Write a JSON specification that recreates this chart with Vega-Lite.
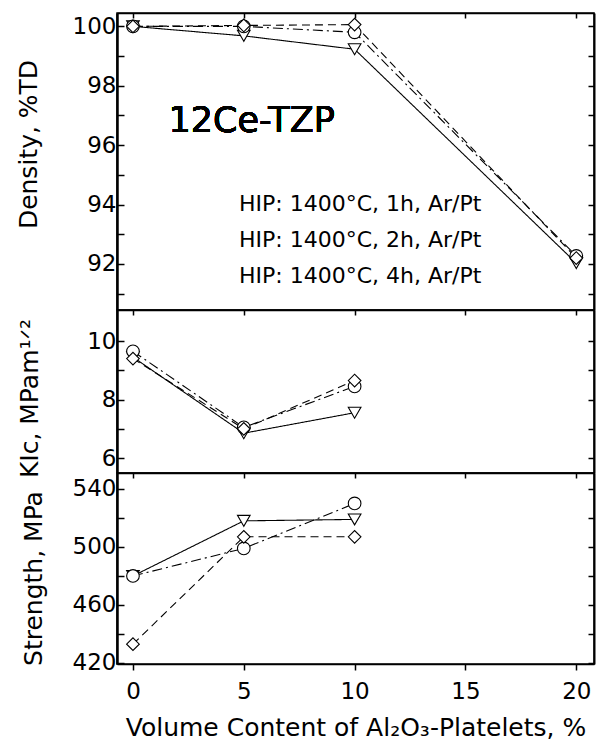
{
  "$schema": "https://vega.github.io/schema/vega-lite/v6.json",
  "padding": {"left": 15, "top": 11, "right": 1, "bottom": 5},
  "spacing": 0,
  "bounds": "flush",
  "config": {
    "view": {"stroke": "black", "strokeWidth": 1.5},
    "axis": {"domainColor": "black", "tickColor": "black", "labelColor": "black", "titleColor": "black", "labelFont": "DejaVu Sans", "titleFont": "DejaVu Sans", "labelFontSize": 23, "titleFontSize": 25, "titleFontWeight": "normal", "grid": false, "tickWidth": 1.5, "domainWidth": 2, "labelOverlap": false, "labelFlush": false, "labelBound": false}
  },
  "datasets": {
    "d": [
      {"prop": "Density", "vol": 0, "hip": "HIP: 1400°C, 1h, Ar/Pt", "val": 100.0},
      {"prop": "Density", "vol": 5, "hip": "HIP: 1400°C, 1h, Ar/Pt", "val": 99.68},
      {"prop": "Density", "vol": 10, "hip": "HIP: 1400°C, 1h, Ar/Pt", "val": 99.23},
      {"prop": "Density", "vol": 20, "hip": "HIP: 1400°C, 1h, Ar/Pt", "val": 92.03},
      {"prop": "Density", "vol": 0, "hip": "HIP: 1400°C, 2h, Ar/Pt", "val": 100.0},
      {"prop": "Density", "vol": 5, "hip": "HIP: 1400°C, 2h, Ar/Pt", "val": 100.0},
      {"prop": "Density", "vol": 10, "hip": "HIP: 1400°C, 2h, Ar/Pt", "val": 99.8},
      {"prop": "Density", "vol": 20, "hip": "HIP: 1400°C, 2h, Ar/Pt", "val": 92.27},
      {"prop": "Density", "vol": 0, "hip": "HIP: 1400°C, 4h, Ar/Pt", "val": 100.0},
      {"prop": "Density", "vol": 5, "hip": "HIP: 1400°C, 4h, Ar/Pt", "val": 100.03},
      {"prop": "Density", "vol": 10, "hip": "HIP: 1400°C, 4h, Ar/Pt", "val": 100.06},
      {"prop": "Density", "vol": 20, "hip": "HIP: 1400°C, 4h, Ar/Pt", "val": 92.2},
      {"prop": "KIc", "vol": 0, "hip": "HIP: 1400°C, 1h, Ar/Pt", "val": 9.45},
      {"prop": "KIc", "vol": 5, "hip": "HIP: 1400°C, 1h, Ar/Pt", "val": 6.85},
      {"prop": "KIc", "vol": 10, "hip": "HIP: 1400°C, 1h, Ar/Pt", "val": 7.55},
      {"prop": "KIc", "vol": 0, "hip": "HIP: 1400°C, 2h, Ar/Pt", "val": 9.65},
      {"prop": "KIc", "vol": 5, "hip": "HIP: 1400°C, 2h, Ar/Pt", "val": 7.05},
      {"prop": "KIc", "vol": 10, "hip": "HIP: 1400°C, 2h, Ar/Pt", "val": 8.45},
      {"prop": "KIc", "vol": 0, "hip": "HIP: 1400°C, 4h, Ar/Pt", "val": 9.4},
      {"prop": "KIc", "vol": 5, "hip": "HIP: 1400°C, 4h, Ar/Pt", "val": 7.0},
      {"prop": "KIc", "vol": 10, "hip": "HIP: 1400°C, 4h, Ar/Pt", "val": 8.65},
      {"prop": "Strength", "vol": 0, "hip": "HIP: 1400°C, 1h, Ar/Pt", "val": 480},
      {"prop": "Strength", "vol": 5, "hip": "HIP: 1400°C, 1h, Ar/Pt", "val": 518},
      {"prop": "Strength", "vol": 10, "hip": "HIP: 1400°C, 1h, Ar/Pt", "val": 519},
      {"prop": "Strength", "vol": 0, "hip": "HIP: 1400°C, 2h, Ar/Pt", "val": 480},
      {"prop": "Strength", "vol": 5, "hip": "HIP: 1400°C, 2h, Ar/Pt", "val": 499},
      {"prop": "Strength", "vol": 10, "hip": "HIP: 1400°C, 2h, Ar/Pt", "val": 530},
      {"prop": "Strength", "vol": 0, "hip": "HIP: 1400°C, 4h, Ar/Pt", "val": 433},
      {"prop": "Strength", "vol": 5, "hip": "HIP: 1400°C, 4h, Ar/Pt", "val": 507},
      {"prop": "Strength", "vol": 10, "hip": "HIP: 1400°C, 4h, Ar/Pt", "val": 507}
    ]
  },
  "resolve": {"scale": {"shape": "independent", "strokeDash": "independent"}},
  "vconcat": [
    {
      "width": 477, "height": 297,
      "data": {"name": "d"},
      "transform": [{"filter": "datum.prop == 'Density'"}],
      "layer": [
        {
          "mark": {"type": "line", "color": "black", "strokeWidth": 1.1},
          "encoding": {
            "x": {"field": "vol", "type": "quantitative", "scale": {"domain": [-0.72, 20.8], "nice": false, "zero": false},
                  "axis": {"orient": "top", "values": [0, 5, 10, 15, 20], "labels": false, "title": null, "tickSize": -5, "domainWidth": 1.5}},
            "y": {"field": "val", "type": "quantitative", "scale": {"domain": [90.45, 100.45], "nice": false, "zero": false},
                  "axis": {"orient": "left", "values": [91, 92, 93, 94, 95, 96, 97, 98, 99, 100], "labelExpr": "datum.value % 2 == 0 ? datum.label : ''", "tickSize": -7, "labelPadding": 8, "title": "Density, %TD", "titleX": -81, "titleY": 131, "titleBaseline": "alphabetic", "domainWidth": 2.5}},
            "strokeDash": {"field": "hip", "type": "nominal", "legend": null,
                  "scale": {"domain": ["HIP: 1400°C, 2h, Ar/Pt", "HIP: 1400°C, 1h, Ar/Pt", "HIP: 1400°C, 4h, Ar/Pt"], "range": [[10, 4, 2, 4], [1, 0], [8, 5]]}}
          }
        },
        {
          "mark": {"type": "point", "filled": true, "fill": "white", "stroke": "black", "strokeWidth": 1.1, "size": 160, "opacity": 1},
          "encoding": {
            "x": {"field": "vol", "type": "quantitative", "axis": null},
            "y": {"field": "val", "type": "quantitative", "axis": {"orient": "right", "values": [91, 92, 93, 94, 95, 96, 97, 98, 99, 100], "labels": false, "title": null, "tickSize": -6, "domainWidth": 2}},
            "shape": {"field": "hip", "type": "nominal",
                  "scale": {"domain": ["HIP: 1400°C, 1h, Ar/Pt", "HIP: 1400°C, 2h, Ar/Pt", "HIP: 1400°C, 4h, Ar/Pt"], "range": ["triangle-down", "circle", "diamond"]},
                  "legend": {"orient": "none", "legendX": 92, "legendY": 180, "title": null, "symbolSize": 150, "labelFont": "DejaVu Sans", "labelFontSize": 22, "labelColor": "black", "labelOffset": 8, "rowPadding": 14, "padding": 0, "labelLimit": 400, "symbolStrokeWidth": 1.1, "symbolStrokeColor": "black", "symbolFillColor": "white",
                    "encode": {"symbols": {
                      "fill": {"value": "white"}, "stroke": {"value": "black"}, "strokeWidth": {"value": 1.1}, "opacity": {"value": 1}}}}}
          }
        },
        {
          "mark": {"type": "text", "text": "12Ce-TZP", "font": "DejaVu Sans", "fontSize": 35, "align": "left", "baseline": "alphabetic", "color": "black"},
          "encoding": {
            "x": {"datum": 1.6, "type": "quantitative", "axis": null},
            "y": {"datum": 96.45, "type": "quantitative", "axis": null}
          }
        }
      ],
      "resolve": {"axis": {"x": "independent", "y": "independent"}}
    },
    {
      "width": 477, "height": 163,
      "data": {"name": "d"},
      "transform": [{"filter": "datum.prop == 'KIc'"}],
      "layer": [
        {
          "mark": {"type": "line", "color": "black", "strokeWidth": 1.1},
          "encoding": {
            "x": {"field": "vol", "type": "quantitative", "scale": {"domain": [-0.72, 20.8], "nice": false, "zero": false},
                  "axis": {"orient": "top", "values": [0, 5, 10, 15, 20], "labels": false, "title": null, "tickSize": -5, "domainWidth": 1.5}},
            "y": {"field": "val", "type": "quantitative", "scale": {"domain": [5.49, 11.06], "nice": false, "zero": false},
                  "axis": {"orient": "left", "values": [6, 7, 8, 9, 10], "labelExpr": "datum.value % 2 == 0 ? datum.label : ''", "tickSize": -7, "labelPadding": 8, "title": "KIc, MPam¹ᐟ²", "titleX": -80, "titleY": 88, "titleBaseline": "alphabetic", "domainWidth": 2.5}},
            "strokeDash": {"field": "hip", "type": "nominal", "legend": null,
                  "scale": {"domain": ["HIP: 1400°C, 1h, Ar/Pt", "HIP: 1400°C, 2h, Ar/Pt", "HIP: 1400°C, 4h, Ar/Pt"], "range": [[1, 0], [10, 4, 2, 4], [8, 5]]}}
          }
        },
        {
          "mark": {"type": "point", "filled": true, "fill": "white", "stroke": "black", "strokeWidth": 1.1, "size": 160, "opacity": 1},
          "encoding": {
            "x": {"field": "vol", "type": "quantitative", "axis": null},
            "y": {"field": "val", "type": "quantitative", "axis": {"orient": "right", "values": [6, 7, 8, 9, 10], "labels": false, "title": null, "tickSize": -6, "domainWidth": 2}},
            "shape": {"field": "hip", "type": "nominal", "legend": null,
                  "scale": {"domain": ["HIP: 1400°C, 1h, Ar/Pt", "HIP: 1400°C, 2h, Ar/Pt", "HIP: 1400°C, 4h, Ar/Pt"], "range": ["triangle-down", "circle", "diamond"]}}
          }
        }
      ],
      "resolve": {"axis": {"x": "independent", "y": "independent"}}
    },
    {
      "width": 477, "height": 191,
      "data": {"name": "d"},
      "transform": [{"filter": "datum.prop == 'Strength'"}],
      "layer": [
        {
          "mark": {"type": "line", "color": "black", "strokeWidth": 1.1},
          "encoding": {
            "x": {"field": "vol", "type": "quantitative", "scale": {"domain": [-0.72, 20.8], "nice": false, "zero": false},
                  "axis": {"orient": "top", "values": [0, 5, 10, 15, 20], "labels": false, "title": null, "tickSize": -5, "domainWidth": 1.5}},
            "y": {"field": "val", "type": "quantitative", "scale": {"domain": [419.3, 551], "nice": false, "zero": false},
                  "axis": {"orient": "left", "values": [420, 440, 460, 480, 500, 520, 540], "labelExpr": "datum.value % 40 == 20 ? datum.label : ''", "tickSize": -7, "labelPadding": 8, "title": "Strength, MPa", "titleX": -76, "titleY": 105, "titleBaseline": "alphabetic", "domainWidth": 2.5}},
            "strokeDash": {"field": "hip", "type": "nominal", "legend": null,
                  "scale": {"domain": ["HIP: 1400°C, 1h, Ar/Pt", "HIP: 1400°C, 2h, Ar/Pt", "HIP: 1400°C, 4h, Ar/Pt"], "range": [[1, 0], [10, 4, 2, 4], [8, 5]]}}
          }
        },
        {
          "mark": {"type": "point", "filled": true, "fill": "white", "stroke": "black", "strokeWidth": 1.1, "size": 160, "opacity": 1},
          "encoding": {
            "x": {"field": "vol", "type": "quantitative",
                  "axis": {"orient": "bottom", "values": [0, 5, 10, 15, 20], "tickSize": 6, "labelPadding": 10, "title": "Volume Content of Al₂O₃-Platelets, %", "titlePadding": 12, "domainWidth": 1.5}},
            "y": {"field": "val", "type": "quantitative", "axis": {"orient": "right", "values": [420, 440, 460, 480, 500, 520, 540], "labels": false, "title": null, "tickSize": -6, "domainWidth": 2}},
            "shape": {"field": "hip", "type": "nominal", "legend": null,
                  "scale": {"domain": ["HIP: 1400°C, 1h, Ar/Pt", "HIP: 1400°C, 2h, Ar/Pt", "HIP: 1400°C, 4h, Ar/Pt"], "range": ["triangle-down", "circle", "diamond"]}}
          }
        }
      ],
      "resolve": {"axis": {"x": "independent", "y": "independent"}}
    }
  ]
}
